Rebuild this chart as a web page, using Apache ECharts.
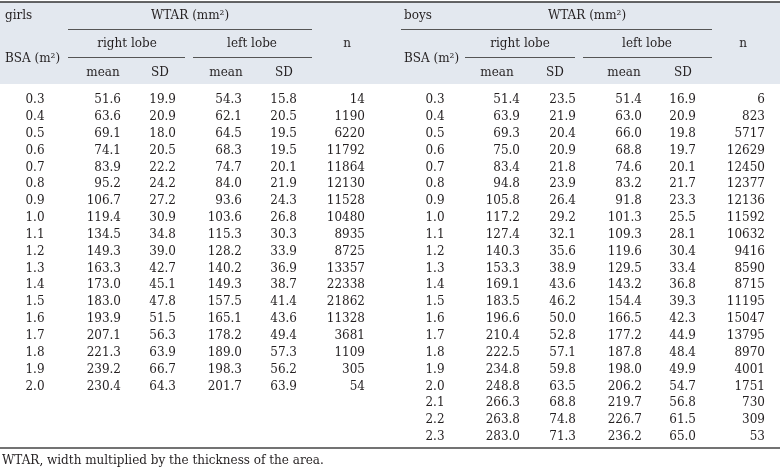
<!DOCTYPE html>
<html>
<head>
<meta charset="utf-8">
<script src="https://cdn.jsdelivr.net/npm/echarts@6/dist/echarts.min.js"></script>
<style>html,body{margin:0;padding:0;background:#fff}#c{width:780px;height:472px}</style>
</head>
<body>
<div id="c"></div>
<script>
// ---- data ----
const girlsBSA = [0.3,0.4,0.5,0.6,0.7,0.8,0.9,1.0,1.1,1.2,1.3,1.4,1.5,1.6,1.7,1.8,1.9,2.0];
const girlsRightMean = [51.6,63.6,69.1,74.1,83.9,95.2,106.7,119.4,134.5,149.3,163.3,173.0,183.0,193.9,207.1,221.3,239.2,230.4];
const girlsRightSD = [19.9,20.9,18.0,20.5,22.2,24.2,27.2,30.9,34.8,39.0,42.7,45.1,47.8,51.5,56.3,63.9,66.7,64.3];
const girlsLeftMean = [54.3,62.1,64.5,68.3,74.7,84.0,93.6,103.6,115.3,128.2,140.2,149.3,157.5,165.1,178.2,189.0,198.3,201.7];
const girlsLeftSD = [15.8,20.5,19.5,19.5,20.1,21.9,24.3,26.8,30.3,33.9,36.9,38.7,41.4,43.6,49.4,57.3,56.2,63.9];
const girlsN = [14,1190,6220,11792,11864,12130,11528,10480,8935,8725,13357,22338,21862,11328,3681,1109,305,54];

const boysBSA = [0.3,0.4,0.5,0.6,0.7,0.8,0.9,1.0,1.1,1.2,1.3,1.4,1.5,1.6,1.7,1.8,1.9,2.0,2.1,2.2,2.3];
const boysRightMean = [51.4,63.9,69.3,75.0,83.4,94.8,105.8,117.2,127.4,140.3,153.3,169.1,183.5,196.6,210.4,222.5,234.8,248.8,266.3,263.8,283.0];
const boysRightSD = [23.5,21.9,20.4,20.9,21.8,23.9,26.4,29.2,32.1,35.6,38.9,43.6,46.2,50.0,52.8,57.1,59.8,63.5,68.8,74.8,71.3];
const boysLeftMean = [51.4,63.0,66.0,68.8,74.6,83.2,91.8,101.3,109.3,119.6,129.5,143.2,154.4,166.5,177.2,187.8,198.0,206.2,219.7,226.7,236.2];
const boysLeftSD = [16.9,20.9,19.8,19.7,20.1,21.7,23.3,25.5,28.1,30.4,33.4,36.8,39.3,42.3,44.9,48.4,49.9,54.7,56.8,61.5,65.0];
const boysN = [6,823,5717,12629,12450,12377,12136,11592,10632,9416,8590,8715,11195,15047,13795,8970,4001,1751,730,309,53];

const columnNames = ['BSA','rightMean','rightSD','leftMean','leftSD','n'];
const rowLabels = boysBSA.map(v => v.toFixed(1));
const footnote = 'WTAR, width multiplied by the thickness of the area.';

// ---- layout / style ----
const FONT = '12px "DejaVu Serif"';
const TXT = '#231f20';
const girlsAnchors = [{x:35,a:'center'},{x:121,a:'right'},{x:176,a:'right'},{x:242,a:'right'},{x:297,a:'right'},{x:365,a:'right'}];
const boysAnchors  = [{x:45,a:'center'},{x:130,a:'right'},{x:186,a:'right'},{x:252,a:'right'},{x:306,a:'right'},{x:375,a:'right'}];

function cells(cols) {
  const out = [];
  cols[0].forEach((_, r) => cols.forEach((arr, c) => out.push([c, r, arr[r]])));
  return out;
}
function renderer(anchors) {
  return function (params, api) {
    const c = api.value(0), r = api.value(1), v = api.value(2);
    const pt = api.coord([c, r]);
    const an = anchors[c];
    const txt = c === 5 ? String(Math.round(v)) : v.toFixed(1);
    return {
      type: 'text',
      style: {
        text: txt, x: params.coordSys.x + an.x, y: pt[1],
        textAlign: an.a, textVerticalAlign: 'middle', font: FONT, fill: TXT
      }
    };
  };
}

const ROW0 = 100, STEP = 16.85;
const gridTop = ROW0 - STEP / 2, gridH = STEP * rowLabels.length;

function t(text, x, y, align) {
  return { type: 'text', silent: true, style: { text, x, y, textAlign: align || 'center', textVerticalAlign: 'middle', font: FONT, fill: TXT } };
}
function ln(x1, y1, x2, y2, w, col) {
  return { type: 'line', silent: true, shape: { x1, y1, x2, y2 }, style: { stroke: col || '#555', lineWidth: w || 1 } };
}

const graphics = [
  { type: 'rect', silent: true, z: -10, shape: { x: 0, y: 2, width: 780, height: 82 }, style: { fill: '#e3e8ef' } },
  ln(0, 2, 780, 2, 1.5, '#333'),
  // girls header
  t('girls', 5, 16, 'left'),
  t('WTAR (mm²)', 190, 16),
  ln(68, 29.5, 312, 29.5),
  t('right lobe', 127, 44),
  t('left lobe', 252, 44),
  t('n', 347, 44),
  t('BSA (m²)', 5, 59, 'left'),
  ln(68, 57.5, 185, 57.5),
  ln(193, 57.5, 312, 57.5),
  t('mean', 103, 73), t('SD', 160, 73), t('mean', 226, 73), t('SD', 284, 73),
  // boys header
  t('boys', 404, 16, 'left'),
  t('WTAR (mm²)', 587, 16),
  ln(401, 29.5, 712, 29.5),
  t('right lobe', 520, 44),
  t('left lobe', 647, 44),
  t('n', 743, 44),
  t('BSA (m²)', 404, 59, 'left'),
  ln(465, 57.5, 575, 57.5),
  ln(583, 57.5, 712, 57.5),
  t('mean', 497, 73), t('SD', 555, 73), t('mean', 624, 73), t('SD', 683, 73),
  // bottom
  ln(0, 448, 780, 448, 1.5, '#444'),
  t(footnote, 2, 461, 'left')
];

const chart = echarts.init(document.getElementById('c'), null, { renderer: 'canvas' });
const hiddenCat = (data, gi) => ({ type: 'category', gridIndex: gi, data, show: false, boundaryGap: true });
chart.setOption({
  animation: false,
  backgroundColor: '#fff',
  grid: [
    { left: 0, top: gridTop, width: 390, height: gridH },
    { left: 390, top: gridTop, width: 390, height: gridH }
  ],
  xAxis: [hiddenCat(columnNames, 0), hiddenCat(columnNames, 1)],
  yAxis: [
    Object.assign(hiddenCat(rowLabels, 0), { inverse: true }),
    Object.assign(hiddenCat(rowLabels, 1), { inverse: true })
  ],
  series: [
    { type: 'custom', name: 'girls', xAxisIndex: 0, yAxisIndex: 0, silent: true,
      renderItem: renderer(girlsAnchors),
      data: cells([girlsBSA, girlsRightMean, girlsRightSD, girlsLeftMean, girlsLeftSD, girlsN]) },
    { type: 'custom', name: 'boys', xAxisIndex: 1, yAxisIndex: 1, silent: true,
      renderItem: renderer(boysAnchors),
      data: cells([boysBSA, boysRightMean, boysRightSD, boysLeftMean, boysLeftSD, boysN]) }
  ],
  graphic: graphics
});
</script>
</body>
</html>
